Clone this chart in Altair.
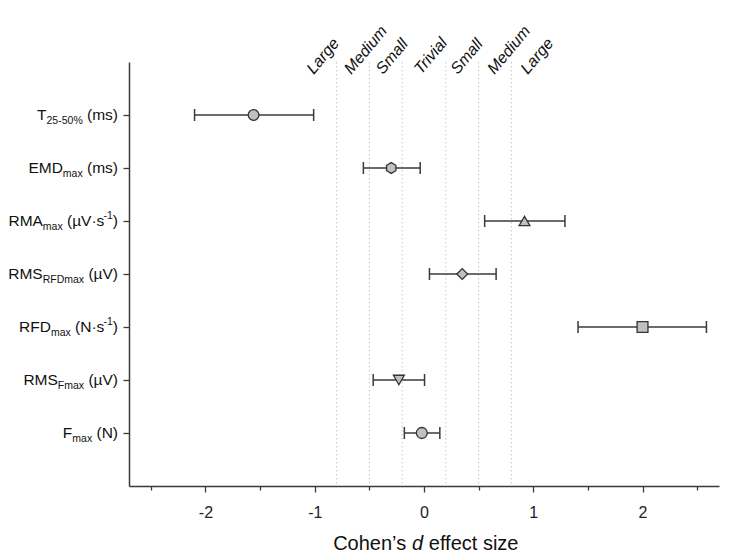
import altair as alt
import pandas as pd

# ---------------- data ----------------
measures = ["T", "EMD", "RMA", "RMS_RFD", "RFD", "RMS_F", "F"]
effect = [-1.56, -0.30, 0.92, 0.35, 2.00, -0.23, -0.02]
ci_low = [-2.10, -0.555, 0.555, 0.05, 1.41, -0.465, -0.18]
ci_high = [-1.01, -0.035, 1.29, 0.66, 2.585, 0.005, 0.145]

# label pieces: (text, kind) kind: n = normal, sub = subscript, sup = superscript
label_parts = [
    [("T", "n"), ("25-50%", "sub"), (" (ms)", "n")],
    [("EMD", "n"), ("max", "sub"), (" (ms)", "n")],
    [("RMA", "n"), ("max", "sub"), (" (µV·s", "n"), ("-1", "sup"), (")", "n")],
    [("RMS", "n"), ("RFDmax", "sub"), (" (µV)", "n")],
    [("RFD", "n"), ("max", "sub"), (" (N·s", "n"), ("-1", "sup"), (")", "n")],
    [("RMS", "n"), ("Fmax", "sub"), (" (µV)", "n")],
    [("F", "n"), ("max", "sub"), (" (N)", "n")],
]

thresholds = [-0.8, -0.5, -0.2, 0.2, 0.5, 0.8]
zone_labels = ["Large", "Medium", "Small", "Trivial", "Small", "Medium", "Large"]
zone_label_pos = [-1.01, -0.665, -0.375, -0.025, 0.31, 0.645, 0.95]

x_ticks = [-2.5, -2, -1.5, -1, -0.5, 0, 0.5, 1, 1.5, 2, 2.5]
x_domain = [-2.7, 2.7]

title_parts = [("Cohen’s ", "normal"), ("d", "italic"), (" effect size", "normal")]

# ---------------- style ----------------
W, H = 590, 424
FONT = "Liberation Sans, Arial, sans-serif"
DARK = "#3a3a3a"
HEX = "M0,-1L0.866,-0.5L0.866,0.5L0,1L-0.866,0.5L-0.866,-0.5Z"
marker_shapes = ["circle", HEX, "triangle-up", "diamond", "square", "triangle-down", "circle"]
marker_sizes = [115, 120, 120, 150, 85, 120, 95]
MAIN_FS, SUB_FS, TITLE_FS = 15.5, 10.5, 20

# Arial / Liberation Sans advance widths (per 1000 em)
AW = {'T': 611, 'E': 667, 'M': 833, 'D': 722, 'R': 722, 'A': 667, 'S': 667, 'F': 611,
      'N': 722, ' ': 278, '(': 333, ')': 333, 'm': 833, 's': 500, 'a': 556, 'x': 500,
      'µ': 576, 'V': 667, '·': 278, '-': 333, '1': 556, '2': 556, '5': 556, '0': 556,
      '%': 889, 'C': 722, 'o': 556, 'h': 556, 'e': 556, 'n': 556, '’': 222, 'd': 556,
      'f': 278, 'c': 500, 't': 278, 'i': 222, 'z': 500}


def text_w(s, fs):
    return sum(AW.get(ch, 556) for ch in s) * fs / 1000.0


def px_to_x(px):
    return x_domain[0] + px * (x_domain[1] - x_domain[0]) / W


def add_segment(rows, base, text, fs, start):
    """SVG drops leading/trailing blanks, so shift the start instead."""
    lead = len(text) - len(text.lstrip(" "))
    body = text.strip(" ")
    row = dict(base)
    row.update({"text": body, "xd": px_to_x(start + text_w(" " * lead, fs))})
    rows.append(row)
    return start + text_w(text, fs)


# label segment table (right aligned at px = -11)
seg_rows = []
for m, parts in zip(measures, label_parts):
    total = sum(text_w(t, MAIN_FS if k == "n" else SUB_FS) for t, k in parts)
    start = -11 - total
    for t, k in parts:
        start = add_segment(seg_rows, {"measure": m, "kind": k}, t,
                            MAIN_FS if k == "n" else SUB_FS, start)
seg_df = pd.DataFrame(seg_rows)

# title segments centred at px 297
ttotal = sum(text_w(t, TITLE_FS) for t, _ in title_parts)
tstart = 297 - ttotal / 2
title_rows = []
for t, st in title_parts:
    tstart = add_segment(title_rows, {"style": st}, t, TITLE_FS, tstart)
title_df = pd.DataFrame(title_rows)

df = pd.DataFrame({"measure": measures, "d": effect, "lo": ci_low, "hi": ci_high})
thr_df = pd.DataFrame({"t": thresholds})
zone_df = pd.DataFrame({"label": zone_labels, "pos": zone_label_pos})

x_scale = alt.Scale(domain=x_domain, nice=False, zero=False)
y_scale = alt.Scale(type="point", padding=1)

x_axis = alt.Axis(
    values=x_ticks,
    labelExpr="datum.value % 1 === 0 ? '' + datum.value : ''",
    tickSize={"condition": {"test": "datum.value % 1 === 0", "value": 6}, "value": 4},
    grid=False, domainColor=DARK, domainWidth=1.5, tickColor=DARK, tickWidth=1.3,
    labelFontSize=16, labelColor="#222", labelPadding=12, labelFont=FONT, title=None,
)
y_axis = alt.Axis(labels=False, title=None, ticks=True, tickSize=6, grid=False,
                  domainColor=DARK, domainWidth=1.5, tickColor=DARK, tickWidth=1.3)


def X(field):
    return alt.X(field, scale=x_scale, axis=x_axis)


def Y():
    return alt.Y("measure:N", sort=measures, scale=y_scale, axis=y_axis)


bars = alt.Chart(df).mark_rule(color=DARK, strokeWidth=1.5).encode(
    x=X("lo:Q"), x2="hi:Q", y=Y()
)

thr = alt.Chart(thr_df).mark_rule(color="#c4c4c4", strokeWidth=1, strokeDash=[1.5, 2.5]).encode(
    x=X("t:Q")
)

caps = alt.Chart(df).transform_fold(["lo", "hi"], as_=["end", "val"]).mark_tick(
    color=DARK, thickness=1.5, size=12, opacity=1
).encode(x=X("val:Q"), y=Y())

points = alt.Chart(df).mark_point(
    fill="#c0c0c0", fillOpacity=1, stroke="#333333", strokeWidth=1.3, opacity=1
).encode(
    x=X("d:Q"),
    y=Y(),
    shape=alt.Shape("measure:N", scale=alt.Scale(domain=measures, range=marker_shapes), legend=None),
    size=alt.Size("measure:N", scale=alt.Scale(domain=measures, range=marker_sizes), legend=None),
)

zones = alt.Chart(zone_df).mark_text(
    angle=310, align="left", baseline="alphabetic", fontStyle="italic",
    fontSize=16, font=FONT, color="#111"
).encode(x=X("pos:Q"), y=alt.value(13), text="label:N")


def seg_layer(kind, fs, dy):
    return alt.Chart(seg_df).transform_filter(alt.datum.kind == kind).mark_text(
        align="left", baseline="alphabetic", fontSize=fs, font=FONT, color="#111", dy=dy
    ).encode(x=X("xd:Q"), y=Y(), text="text:N")


lab_n = seg_layer("n", MAIN_FS, 5)
lab_sub = seg_layer("sub", SUB_FS, 9)
lab_sup = seg_layer("sup", SUB_FS, -2)

titles = []
for st in ["normal", "italic"]:
    titles.append(
        alt.Chart(title_df).transform_filter(alt.datum.style == st).mark_text(
            align="left", baseline="alphabetic", fontSize=TITLE_FS, font=FONT,
            fontStyle=st, color="#111"
        ).encode(x=X("xd:Q"), y=alt.value(H + 64), text="text:N")
    )

chart = alt.layer(thr, bars, caps, points, zones, lab_n, lab_sub, lab_sup, *titles).properties(
    width=W, height=H,
    background="white",
    autosize=alt.AutoSizeParams(type="none"),
    padding={"left": 121, "top": 54, "right": 25, "bottom": 70},
).configure_view(strokeWidth=0, stroke="transparent")

chart.save("out.html", embed_options={"renderer": "svg", "actions": False})
